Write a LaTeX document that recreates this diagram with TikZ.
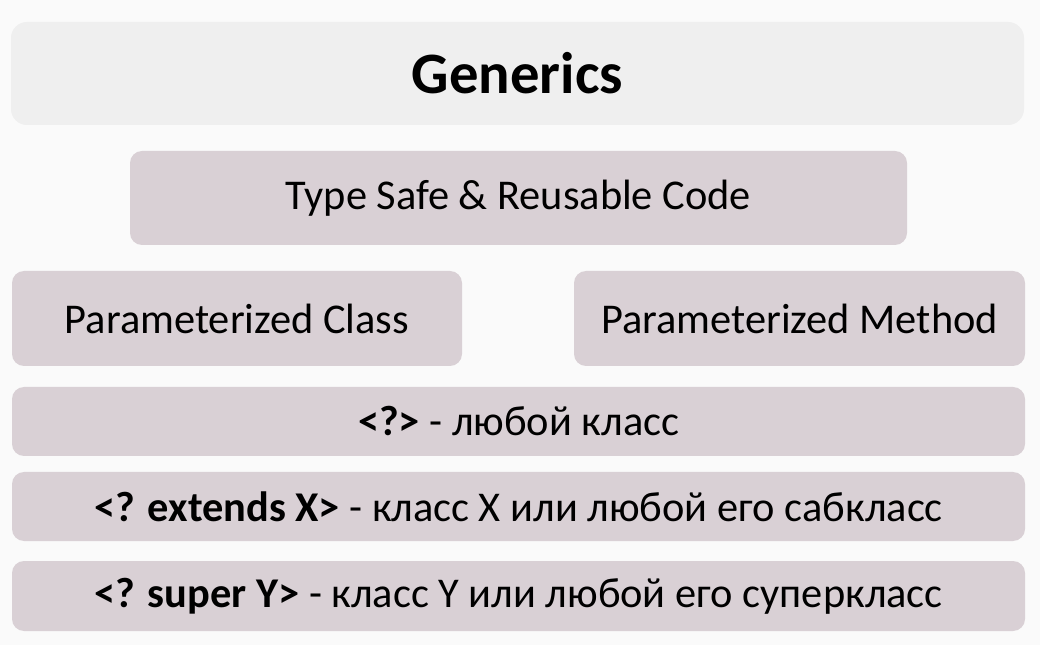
\documentclass[tikz,border=0pt]{standalone}
\usepackage{fontspec}
\setmainfont{Carlito}
\definecolor{pagebg}{HTML}{FAFAFA}
\definecolor{titlefill}{HTML}{EFEFEF}
\definecolor{boxfill}{HTML}{D9D0D5}
\begin{document}
\begin{tikzpicture}[x=0.75pt,y=-0.75pt,
  panel/.style={fill=boxfill,draw=none,rounded corners=9pt,inner sep=0pt,
    minimum height=#1*0.75pt},
  lbl/.style={font=\fontsize{31.8}{36}\selectfont}]
\fill[pagebg] (0,0) rectangle (1040,645);
\useasboundingbox (0,0) rectangle (1040,645);
% title band
\node[fill=titlefill,rounded corners=12pt,minimum width=1013*0.75pt,minimum height=103*0.75pt,
  font=\fontsize{44}{50}\selectfont\bfseries] (title) at (517.5,73.5) {Generics};
% purpose
\node[panel=94,minimum width=777*0.75pt,lbl] (safe) at (518.5,198) {Type Safe \& Reusable Code};
% two kinds
\node[panel=95,minimum width=450*0.75pt,lbl] (cls) at (237,318.5) {Parameterized Class};
\node[panel=95,minimum width=451*0.75pt,lbl] (mth) at (799.5,318.5) {Parameterized Method};
% wildcards
\node[panel=69,minimum width=1013*0.75pt,lbl] (any) at (518.5,421.5) {\textbf{<?>} - любой класс};
\node[panel=69,minimum width=1013*0.75pt,lbl] (ext) at (518.5,506.5) {\textbf{<? extends X>} - класс X или любой его сабкласс};
\node[panel=70,minimum width=1013*0.75pt,lbl] (sup) at (518.5,596) {\textbf{<? super Y>} - класс Y или любой его суперкласс};
\end{tikzpicture}
\end{document}
